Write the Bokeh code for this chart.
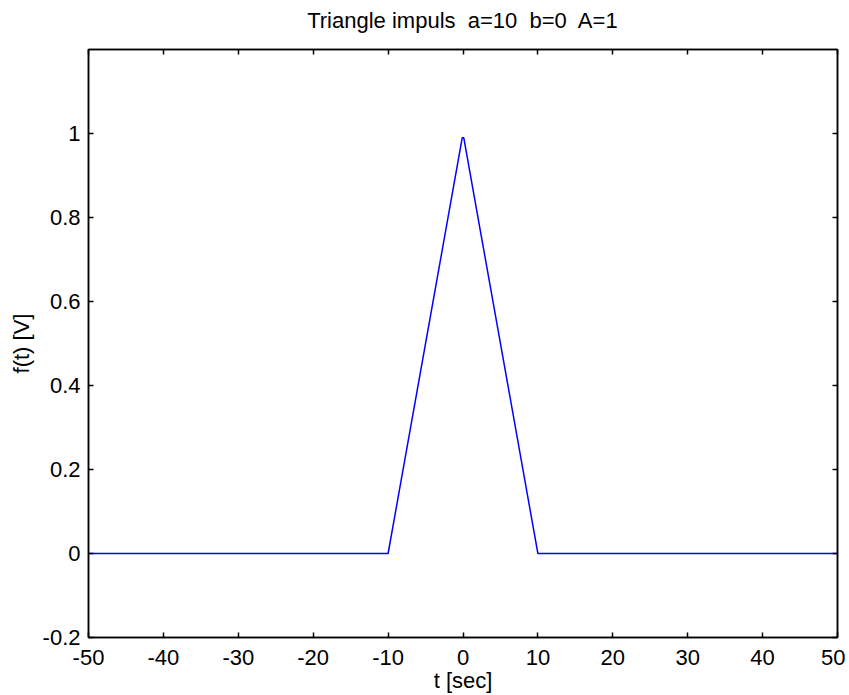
from bokeh.plotting import figure
from bokeh.models import LinearAxis, FixedTicker, Range1d
from bokeh.embed import file_html
from bokeh.resources import INLINE

# ---- data ----
t_vals = [-50, -10, -0.1, 0.1, 10, 50]
f_vals = [0, 0, 0.99, 0.99, 0, 0]

x_ticks = [-50, -40, -30, -20, -10, 0, 10, 20, 30, 40, 50]
x_tick_labels = ["-50", "-40", "-30", "-20", "-10", "0", "10", "20", "30", "40", "50"]
y_ticks = [-0.2, 0, 0.2, 0.4, 0.6, 0.8, 1]
y_tick_labels = ["-0.2", "0", "0.2", "0.4", "0.6", "0.8", "1"]

title_text = "Triangle impuls  a=10  b=0  A=1"
x_label = "t [sec]"
y_label = "f(t) [V]"

FONT = "Liberation Sans"
FS = "22px"

p = figure(width=845, height=695,
           x_range=Range1d(-50, 50), y_range=Range1d(-0.2, 1.2),
           min_border_left=88, min_border_right=8,
           min_border_top=49, min_border_bottom=58,
           toolbar_location=None, output_backend="svg")

p.grid.visible = False
p.outline_line_color = "black"
p.outline_line_width = 1.5
p.background_fill_color = "white"
p.border_fill_color = "white"

p.line(t_vals, f_vals, line_color="#0000ff", line_width=1.5)


def style_axis(ax, ticks, labels, show_labels):
    ax.ticker = FixedTicker(ticks=ticks)
    ax.major_tick_in = 5
    ax.major_tick_out = 0
    ax.minor_tick_line_color = None
    ax.axis_line_color = "black"
    ax.axis_line_width = 1.5
    ax.major_tick_line_color = "black"
    ax.major_tick_line_width = 1.5
    ax.major_label_text_font = FONT
    ax.major_label_text_color = "black"
    ax.major_label_text_font_size = FS
    ax.axis_label_text_font = FONT
    ax.axis_label_text_font_size = FS
    ax.axis_label_text_font_style = "normal"
    ax.axis_label_text_color = "black"
    if show_labels:
        ax.major_label_overrides = {v: s for v, s in zip(ticks, labels)}
    else:
        ax.major_label_overrides = {v: "" for v in ticks}
        ax.major_label_standoff = 0


xa = p.xaxis[0]
style_axis(xa, x_ticks, x_tick_labels, True)
xa.major_label_standoff = 12
xa.axis_label = x_label
xa.axis_label_standoff = 0

ya = p.yaxis[0]
style_axis(ya, y_ticks, y_tick_labels, True)
ya.major_label_standoff = 8
ya.axis_label = y_label
ya.axis_label_standoff = 6

# top axis: ticks only, carries the chart title as its label
top_ax = LinearAxis()
style_axis(top_ax, x_ticks, x_tick_labels, False)
top_ax.axis_label = title_text.replace("  ", "\u00a0 ")
top_ax.axis_label_standoff = 17
p.add_layout(top_ax, "above")

right_ax = LinearAxis()
style_axis(right_ax, y_ticks, y_tick_labels, False)
p.add_layout(right_ax, "right")

open("out.html", "w").write(file_html(p, INLINE))
